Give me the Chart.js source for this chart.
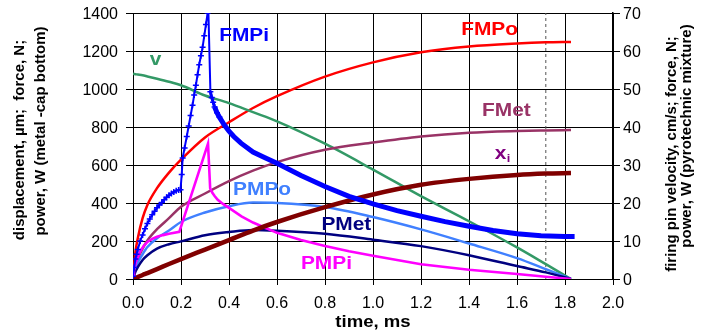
<!DOCTYPE html>
<html><head><meta charset="utf-8">
<script src="https://cdn.jsdelivr.net/npm/chart.js@4.4.1/dist/chart.umd.min.js"></script>
<style>html,body{margin:0;padding:0;background:#fff;}canvas{display:block;}</style>
</head><body>
<canvas id="c" width="704" height="333"></canvas>
<script>
// ---- data ----
const timeGrid = [0,0.01,0.02,0.04,0.06,0.1,0.15,0.2,0.3,0.4,0.5,0.6,0.8,1.0,1.2,1.4,1.6,1.72,1.825];
const fmpo     = [0,140,215,320,390,478,560,628,745,825,900,962,1065,1140,1193,1224,1240,1246,1248];
const fmet     = [0,65,105,160,203,262,320,380,450,515,570,615,680,718,750,770,779,782,784];
const pmpo     = [0,50,85,130,168,215,255,300,350,383,402,400,379,326,261,187,110,52,0];
const pmet     = [0,38,62,100,125,160,183,198,230,247,258,254,238,207,173,125,68,35,0];
const xi       = [0,5,10,21,31,52,79,105,155,205,255,300,378,445,496,527,548,555,558];
const velocity = [54.0,53.9,53.8,53.6,53.3,52.7,51.9,51.0,48.3,46.3,43.9,41.5,35.6,28.8,21.8,15.2,8.3,3.9,0];

const pmpiT = [0,0.004,0.012,0.03,0.045,0.06,0.08,0.1,0.125,0.15,0.193,0.3125,0.3215,0.33,0.34,0.353,0.375,0.4,0.452,0.5,0.6,0.7,0.8,0.9,1.0,1.2,1.4,1.6,1.72,1.825];
const pmpiV = [0,45,90,145,175,195,211,222,231,238,248,713,478,455,437,417,395,374,330,297,243,205,174,146,122,78,49,26,12,0];

const fmpiT = [0,0.005,0.01,0.015,0.02,0.03,0.04,0.05,0.06,0.07,0.08,0.09,0.10,0.11,0.12,0.13,0.14,0.15,0.16,0.17,0.18,0.19,0.198,0.203,0.207,0.215,0.224,0.232,0.240,0.248,0.255,0.262,0.269,0.276,0.283,0.290,0.297,0.304,0.311,0.3135,0.3225,0.328,0.334,0.34,0.35,0.36,0.38,0.40,0.42,0.45,0.5,0.55,0.6,0.7,0.8,0.9,1.0,1.1,1.2,1.3,1.4,1.5,1.6,1.7,1.8,1.84];
const fmpiV = [15,60,105,130,155,200,232,264,292,316,338,356,375,390,403,417,430,441,450,458,464,468,470,550,637,690,750,805,860,915,968,1020,1075,1128,1175,1220,1280,1340,1400,1440,985,955,930,905,875,852,812,778,750,715,668,638,609,545,487,435,395,360,330,302,278,255,238,228,224,224];

const dashTime = 1.72;
const xTicks = {min:0, max:2, step:0.2};
const yTicks = {min:0, max:1400, step:200};
const y1Ticks = {min:0, max:70, step:10};

// label anchors (data coordinates)
const seriesLabels = [
  {text:'FMPi', t:0.463, v:1251, color:'#0000FF'},
  {text:'v',    t:0.094, v:1125, color:'#339966'},
  {text:'FMPo', t:1.486, v:1283, color:'#FF0000'},
  {text:'FMet', t:1.556, v:859,  color:'#993366'},
  {text:'PMPo', t:0.538, v:443,  color:'#4080FF'},
  {text:'PMet', t:0.889, v:259,  color:'#000080'},
  {text:'PMPi', t:0.806, v:54,   color:'#FF00FF'}
];
const xiLabel = {t:1.507, v:632, color:'#800080'};

// ---- build ----
const pts = (ts, vs) => ts.map((t,i)=>({x:t, y:vs[i]}));
const FONT = "'Liberation Sans', Arial, sans-serif";
const SX = 1.16;

function sText(ctx, text, x, y, size, color, align){
  ctx.save();
  ctx.font = 'bold ' + size + 'px ' + FONT;
  ctx.fillStyle = color; ctx.textAlign = 'left'; ctx.textBaseline = 'alphabetic';
  const w = ctx.measureText(text).width * SX;
  const x0 = align === 'center' ? x - w/2 : x;
  ctx.translate(x0, y); ctx.scale(SX, 1); ctx.fillText(text, 0, 0);
  ctx.restore();
  return w;
}
function rText(ctx, text, bx, cy, size){
  ctx.save();
  ctx.translate(bx, cy); ctx.rotate(-Math.PI/2);
  ctx.font = 'bold ' + size + 'px ' + FONT;
  ctx.fillStyle = '#000'; ctx.textAlign = 'center'; ctx.textBaseline = 'alphabetic';
  ctx.fillText(text, 0, 0);
  ctx.restore();
}

const textPlugin = {
  id:'texts',
  afterDraw(chart){
    const ctx = chart.ctx, xs = chart.scales.x, ys = chart.scales.y;
    seriesLabels.forEach(l => sText(ctx, l.text, xs.getPixelForValue(l.t), ys.getPixelForValue(l.v), 18, l.color, 'center'));
    const px = xs.getPixelForValue(xiLabel.t), py = ys.getPixelForValue(xiLabel.v);
    const w = sText(ctx, 'x', px, py, 18, xiLabel.color, 'left');
    sText(ctx, 'i', px + w + 0.5, py + 3, 11, xiLabel.color, 'left');
    // axis titles
    rText(ctx, 'displacement, \u00b5m;  force, N;', 24, 140, 15);
    rText(ctx, 'power, W (metal -cap bottom)', 45, 131, 15);
    rText(ctx, 'firing pin velocity, cm/s; force, N;', 676, 154, 15);
    rText(ctx, 'power, W (pyrotechnic mixture)', 691, 136, 15);
    sText(ctx, 'time, ms', (chart.chartArea.left + chart.chartArea.right)/2, 327, 16, '#000', 'center');
  }
};

const smooth = (label, data, color, width, axis) => ({
  label, data, borderColor:color, backgroundColor:color, borderWidth:width,
  pointRadius:0, cubicInterpolationMode:'monotone', fill:false, yAxisID:axis||'y'
});

const tickFont = {family: FONT, size:16};
const noPad = s => { s.paddingTop = 0; s.paddingBottom = 0; };

new Chart(document.getElementById('c'), {
  type:'line',
  data:{ datasets:[
    { label:'FMPi', data:pts(fmpiT, fmpiV), borderColor:'#0000FF', backgroundColor:'#0000FF',
      borderWidth:2, tension:0, pointStyle:'cross',
      pointRadius: c => (c.parsed && c.parsed.x > 0.37) ? 0 : 3,
      pointBorderWidth:1.5, pointBorderColor:'#0000FF', pointHoverRadius:0,
      segment:{ borderWidth: c => c.p0.parsed.x >= 0.335 ? 5 : (c.p0.parsed.x >= 0.32 ? 3 : 2) } },
    { label:'xi', data:pts(timeGrid, xi), borderColor:'#800000', borderWidth:4.5, pointRadius:0, cubicInterpolationMode:'monotone' },
    { label:'PMPi', data:pts(pmpiT, pmpiV), borderColor:'#FF00FF', borderWidth:2.6, pointRadius:0, tension:0 },
    smooth('PMet', pts(timeGrid, pmet), '#000080', 2.5),
    smooth('PMPo', pts(timeGrid, pmpo), '#4080FF', 2.5),
    smooth('FMet', pts(timeGrid, fmet), '#993366', 2.5),
    smooth('v', pts(timeGrid, velocity), '#339966', 2.5, 'y1'),
    smooth('FMPo', pts(timeGrid, fmpo), '#FF0000', 2.5),
    { label:'marker', data:[{x:dashTime,y:yTicks.min},{x:dashTime,y:yTicks.max}], borderColor:'#555',
      borderWidth:1, borderDash:[3,3], pointRadius:0, tension:0 }
  ]},
  options:{
    responsive:false, animation:false, devicePixelRatio:1,
    layout:{padding:{top:13,left:0,right:0,bottom:0}},
    plugins:{legend:{display:false}, tooltip:{enabled:false}},
    scales:{
      x:{ type:'linear', min:xTicks.min, max:xTicks.max,
          ticks:{stepSize:xTicks.step, callback:v=>Number(v).toFixed(1), font:tickFont, color:'#000', padding:9, maxRotation:0, autoSkip:false},
          grid:{color:'#000', lineWidth:1, tickLength:6},
          border:{color:'#000', width:1},
          afterFit:s=>{ s.height = 54; } },
      y:{ position:'left', min:yTicks.min, max:yTicks.max,
          ticks:{stepSize:yTicks.step, callback:v=>String(v), font:tickFont, color:'#000', padding:8, labelOffset:2},
          grid:{color:'#000', lineWidth:1, tickLength:7},
          border:{color:'#000', width:1},
          afterFit:s=>{ s.width = 133; noPad(s); } },
      y1:{ position:'right', min:y1Ticks.min, max:y1Ticks.max,
          ticks:{stepSize:y1Ticks.step, callback:v=>String(v), font:tickFont, color:'#000', padding:3, labelOffset:2},
          grid:{drawOnChartArea:false, color:'#000', lineWidth:1, tickLength:7},
          border:{color:'#000', width:1.5},
          afterFit:s=>{ s.width = 91; noPad(s); } }
    }
  },
  plugins:[textPlugin]
});
</script>
</body></html>
